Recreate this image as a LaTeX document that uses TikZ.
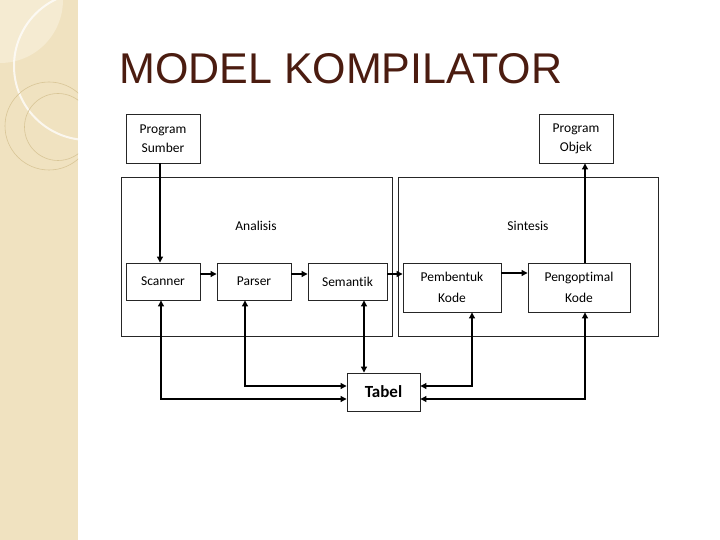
\documentclass[tikz,border=0pt]{standalone}
\usepackage{fontspec}
\setmainfont{Carlito}[Ligatures=NoCommon]
\newfontfamily\titlefont{Liberation Sans}
\usetikzlibrary{arrows.meta}
\definecolor{side}{HTML}{F0E2C0}
\definecolor{sidelight}{HTML}{F5EBD2}
\definecolor{ring}{HTML}{D8C596}
\definecolor{titlec}{HTML}{4B1C10}
\tikzset{
  box/.style={draw=black!85, line width=0.9pt, align=center, inner sep=0pt,
    font=\fontsize{13.5}{21}\selectfont},
  big/.style={draw=black!85, line width=0.9pt, inner sep=0pt},
  lbl/.style={font=\fontsize{13.5}{16}\selectfont, inner sep=0pt},
  arr/.style={line width=1.1pt, -{Triangle[length=6pt,width=6pt]}},
  arrb/.style={line width=1.1pt, {Triangle[length=6pt,width=6pt]}-{Triangle[length=6pt,width=6pt]}}
}
\begin{document}
\begin{tikzpicture}[x=1pt,y=-1pt]
\useasboundingbox (0,0) rectangle (720,540);
\fill[white] (0,0) rectangle (720,540);
% sidebar
\begin{scope}
\clip (0,0) rectangle (78,540);
\fill[side] (0,0) rectangle (78,540);
\fill[sidelight] (0,0) circle[radius=63];
\draw[white, line width=2pt, opacity=0.75] (88,66) circle[radius=74];
\draw[ring, line width=0.6pt] (49,126) circle[radius=44];
\draw[ring, line width=0.6pt] (58,127) circle[radius=33.5];
\end{scope}
% title
\node[anchor=base west, inner sep=0pt, text=titlec, font=\titlefont\fontsize{43}{50}\selectfont] (title) at (119,84) {MODEL KOMPILATOR};
% big boxes
\node[big, minimum width=271pt, minimum height=159pt] (ana) at (256.5,256.5) {};
\node[big, minimum width=260pt, minimum height=159pt] (sin) at (528,256.5) {};
\node[lbl] (analbl) at (256,226) {Analisis};
\node[lbl] (sinlbl) at (528,226) {Sintesis};
% boxes
\node[box, minimum width=74pt, minimum height=49pt] (ps) at (163,138.5) {\raisebox{-2pt}{Program}\\Sumber};
\node[box, minimum width=74pt, minimum height=49pt] (po) at (576,138.5) {\raisebox{-2pt}{Program}\\Objek};
\node[box, minimum width=74pt, minimum height=37pt] (scan) at (163,281.5) {Scanner};
\node[box, minimum width=74pt, minimum height=37pt] (pars) at (254,281.5) {Parser};
\node[box, minimum width=79pt, minimum height=37pt] (sem) at (347.5,281.5) {Semantik};
\node[box, minimum width=98pt, minimum height=49pt] (pemb) at (452,287.5) {Pembentuk\\Kode};
\node[box, minimum width=102pt, minimum height=49pt] (peng) at (579,287.5) {Pengoptimal\\Kode};
\node[box, minimum width=73pt, minimum height=38pt, font=\bfseries\fontsize{17}{20}\selectfont] (tab) at (383.5,392) {Tabel};
% connectors
\draw[arr] (ps.south -| {160,0}) -- (scan.north -| {160,0});
\draw[arr] (scan.east |- {0,274}) -- (pars.west |- {0,274});
\draw[arr] (pars.east |- {0,274}) -- (sem.west |- {0,274});
\draw[arr] (sem.east |- {0,274}) -- (pemb.west |- {0,274});
\draw[arr] (pemb.east |- {0,273}) -- (peng.west |- {0,273});
\draw[arr] (peng.north -| {585,0}) -- (po.south -| {585,0});
\draw[arrb] (scan.south -| {161,0}) |- (tab.west |- {0,399});
\draw[arrb] (pars.south -| {245,0}) |- (tab.west |- {0,386});
\draw[arrb] (sem.south -| {364,0}) -- (tab.north -| {364,0});
\draw[arrb] (pemb.south -| {472,0}) |- (tab.east |- {0,386});
\draw[arrb] (peng.south -| {585,0}) |- (tab.east |- {0,399});
\end{tikzpicture}
\end{document}
